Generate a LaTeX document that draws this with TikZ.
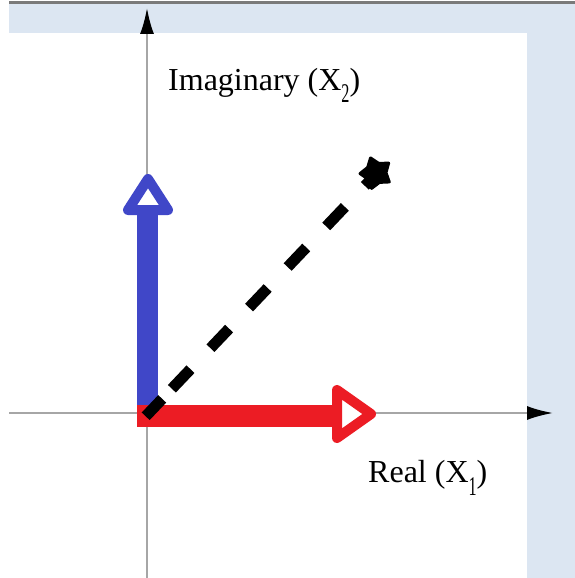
\documentclass[tikz,border=0pt]{standalone}
\usepackage{graphicx}
\usepackage{fontspec}
\setmainfont{Liberation Serif}
\usetikzlibrary{arrows.meta,calc,shapes.geometric}
\definecolor{bgblue}{HTML}{DCE6F2}
\definecolor{topgray}{HTML}{7A7A7A}
\definecolor{axgray}{HTML}{A6A6A6}
\definecolor{vblue}{HTML}{4047C8}
\definecolor{vred}{HTML}{EC1C24}
\newcommand{\mysubsc}[1]{\raisebox{-13pt}{\scalebox{0.6}[1]{\fontsize{27}{27}\selectfont #1}}}
\begin{document}
\begin{tikzpicture}[x=1pt,y=-1pt,
  axis/.style={draw=axgray,line width=2pt,-{Latex[length=26pt,width=14pt,color=black]}},
  lbl/.style={anchor=base west,inner sep=0pt,font=\fontsize{32}{36}\selectfont},
  shaft/.style={line width=21pt},
  headtri/.style={line width=10pt,line join=round,fill=white},
  dashline/.style={draw=black,line width=11pt,line cap=butt,dash pattern=on 27pt off 29pt}]
\useasboundingbox (0,0) rectangle (575,578);
\fill[bgblue] (9,4) rectangle (575,578);
\fill[white] (9,33) rectangle (527,578);
\draw[topgray,line width=3pt] (9,2.5) -- (575,2.5);
% axes
\coordinate (xs) at (9,413);
\coordinate (xe) at (553,413);
\coordinate (ys) at (147,578);
\coordinate (ye) at (147,8);
\draw[axis] (xs) -- (xe);
\draw[axis] (ys) -- (ye);
% blue vector
\coordinate (bB) at (147.5,416);
\coordinate (bT) at (147.5,210);
\draw[vblue,shaft] (bB) -- (bT);
\draw[vblue,headtri] (128,210) -- (168,210) -- (148,179) -- cycle;
% red vector
\coordinate (rB) at (137,416);
\coordinate (rT) at (337,416);
\draw[vred,line width=22pt] (rB) -- (rT);
\draw[vred,headtri] (337,390) -- (337,438) -- (371,414) -- cycle;
% dashed vector
\coordinate (O) at (145,417);
\coordinate (E) at (378,172);
\draw[black,line width=11pt,line cap=butt] ($(O)!1pt!(E)$) -- ($(O)!25pt!(E)$);
\draw[dashline] ($(O)!39pt!(E)$) -- ($(O)!342pt!(E)$);
\node[star,star points=5,star point ratio=1.6,fill=black,draw=black,line join=round,line width=3pt,minimum size=32pt,inner sep=0pt,rotate=20] (blob) at (376,173) {};
% labels
\node[lbl] (im) at (168,90) {Imaginary (X\mysubsc{2})};
\node[lbl] (re) at (368,482) {Real (X\mysubsc{1})};
\end{tikzpicture}
\end{document}
